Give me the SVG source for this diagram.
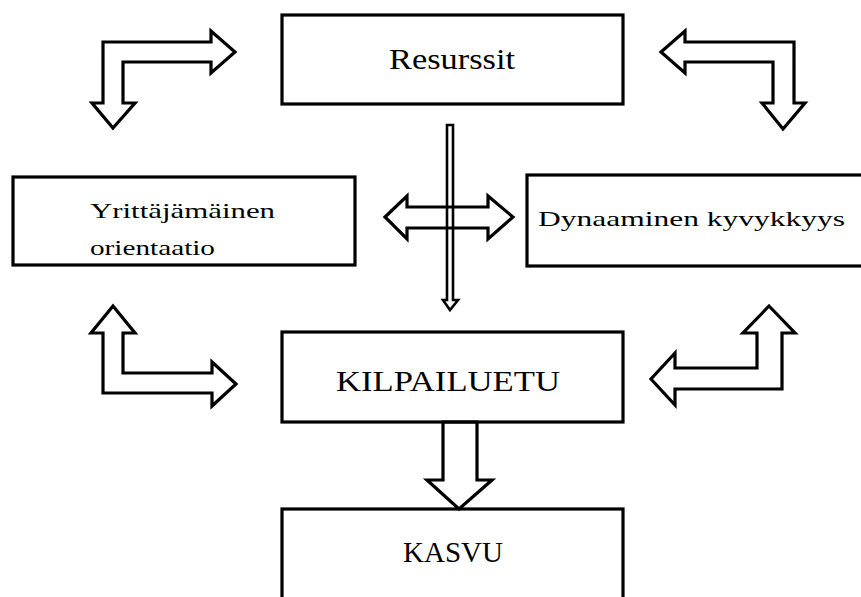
<svg xmlns="http://www.w3.org/2000/svg" width="861" height="597" viewBox="0 0 861 597">
<style>
.box{fill:#fff;stroke:#000;stroke-width:3.2}
.arr{fill:none;stroke:#000;stroke-width:3.2;stroke-linejoin:miter}
.thin{fill:none;stroke:#000;stroke-width:2.6}
text{font-family:"Liberation Serif","Times New Roman",serif;fill:#000}
.big{font-size:29px}
.small{font-size:22px}
</style>
<rect width="861" height="597" fill="#fff"/>
<g id="resurssit"><rect class="box" x="282" y="15" width="341" height="89"/><text class="big" x="389" y="69" textLength="126" lengthAdjust="spacingAndGlyphs">Resurssit</text></g>
<g id="yrittajamainen"><rect class="box" x="13" y="177" width="342" height="88"/><text class="small" x="90" y="218" textLength="185" lengthAdjust="spacingAndGlyphs">Yrittäjämäinen</text><text class="small" x="90" y="255" textLength="125" lengthAdjust="spacingAndGlyphs">orientaatio</text></g>
<g id="dynaaminen"><rect class="box" x="527" y="175" width="345" height="91"/><text class="small" x="538" y="226" textLength="307" lengthAdjust="spacingAndGlyphs">Dynaaminen kyvykkyys</text></g>
<g id="kilpailuetu"><rect class="box" x="282" y="332" width="341" height="90"/><text class="big" x="336" y="391" textLength="224" lengthAdjust="spacingAndGlyphs">KILPAILUETU</text></g>
<g id="kasvu"><rect class="box" x="282" y="509" width="341" height="100"/><text class="big" x="453" y="562" text-anchor="middle">KASVU</text></g>
<g id="connectors">
<polygon class="arr" points="113,128 135,103 123,103 123,62 211,62 211,73 235,52 211,31 211,42 103,42 103,103 92,103"/>
<polygon class="arr" points="661,52 685,31 685,42 794,42 794,103 805,103 783,129 762,103 773,103 773,62 685,62 685,73"/>
<polygon class="arr" points="113,306 135,333 123,333 123,373 212,373 212,362 236,384 212,406 212,393 103,393 103,333 91,333"/>
<polygon class="arr" points="769,306 795,333 782,333 782,389 675,389 675,405 651,379 675,353 675,368 757,368 757,333 743,333"/>
<polygon class="arr" points="385,217 407,196 407,207 488,207 488,196 513,217 488,239 488,228 407,228 407,239"/>
<polygon class="thin" points="447,125 453,125 453,300 458,300 450,310 443,300 447,300"/>
<polygon class="arr" points="443,422 477,422 477,480 492,480 459,509 427,480 443,480"/>
</g>
</svg>
